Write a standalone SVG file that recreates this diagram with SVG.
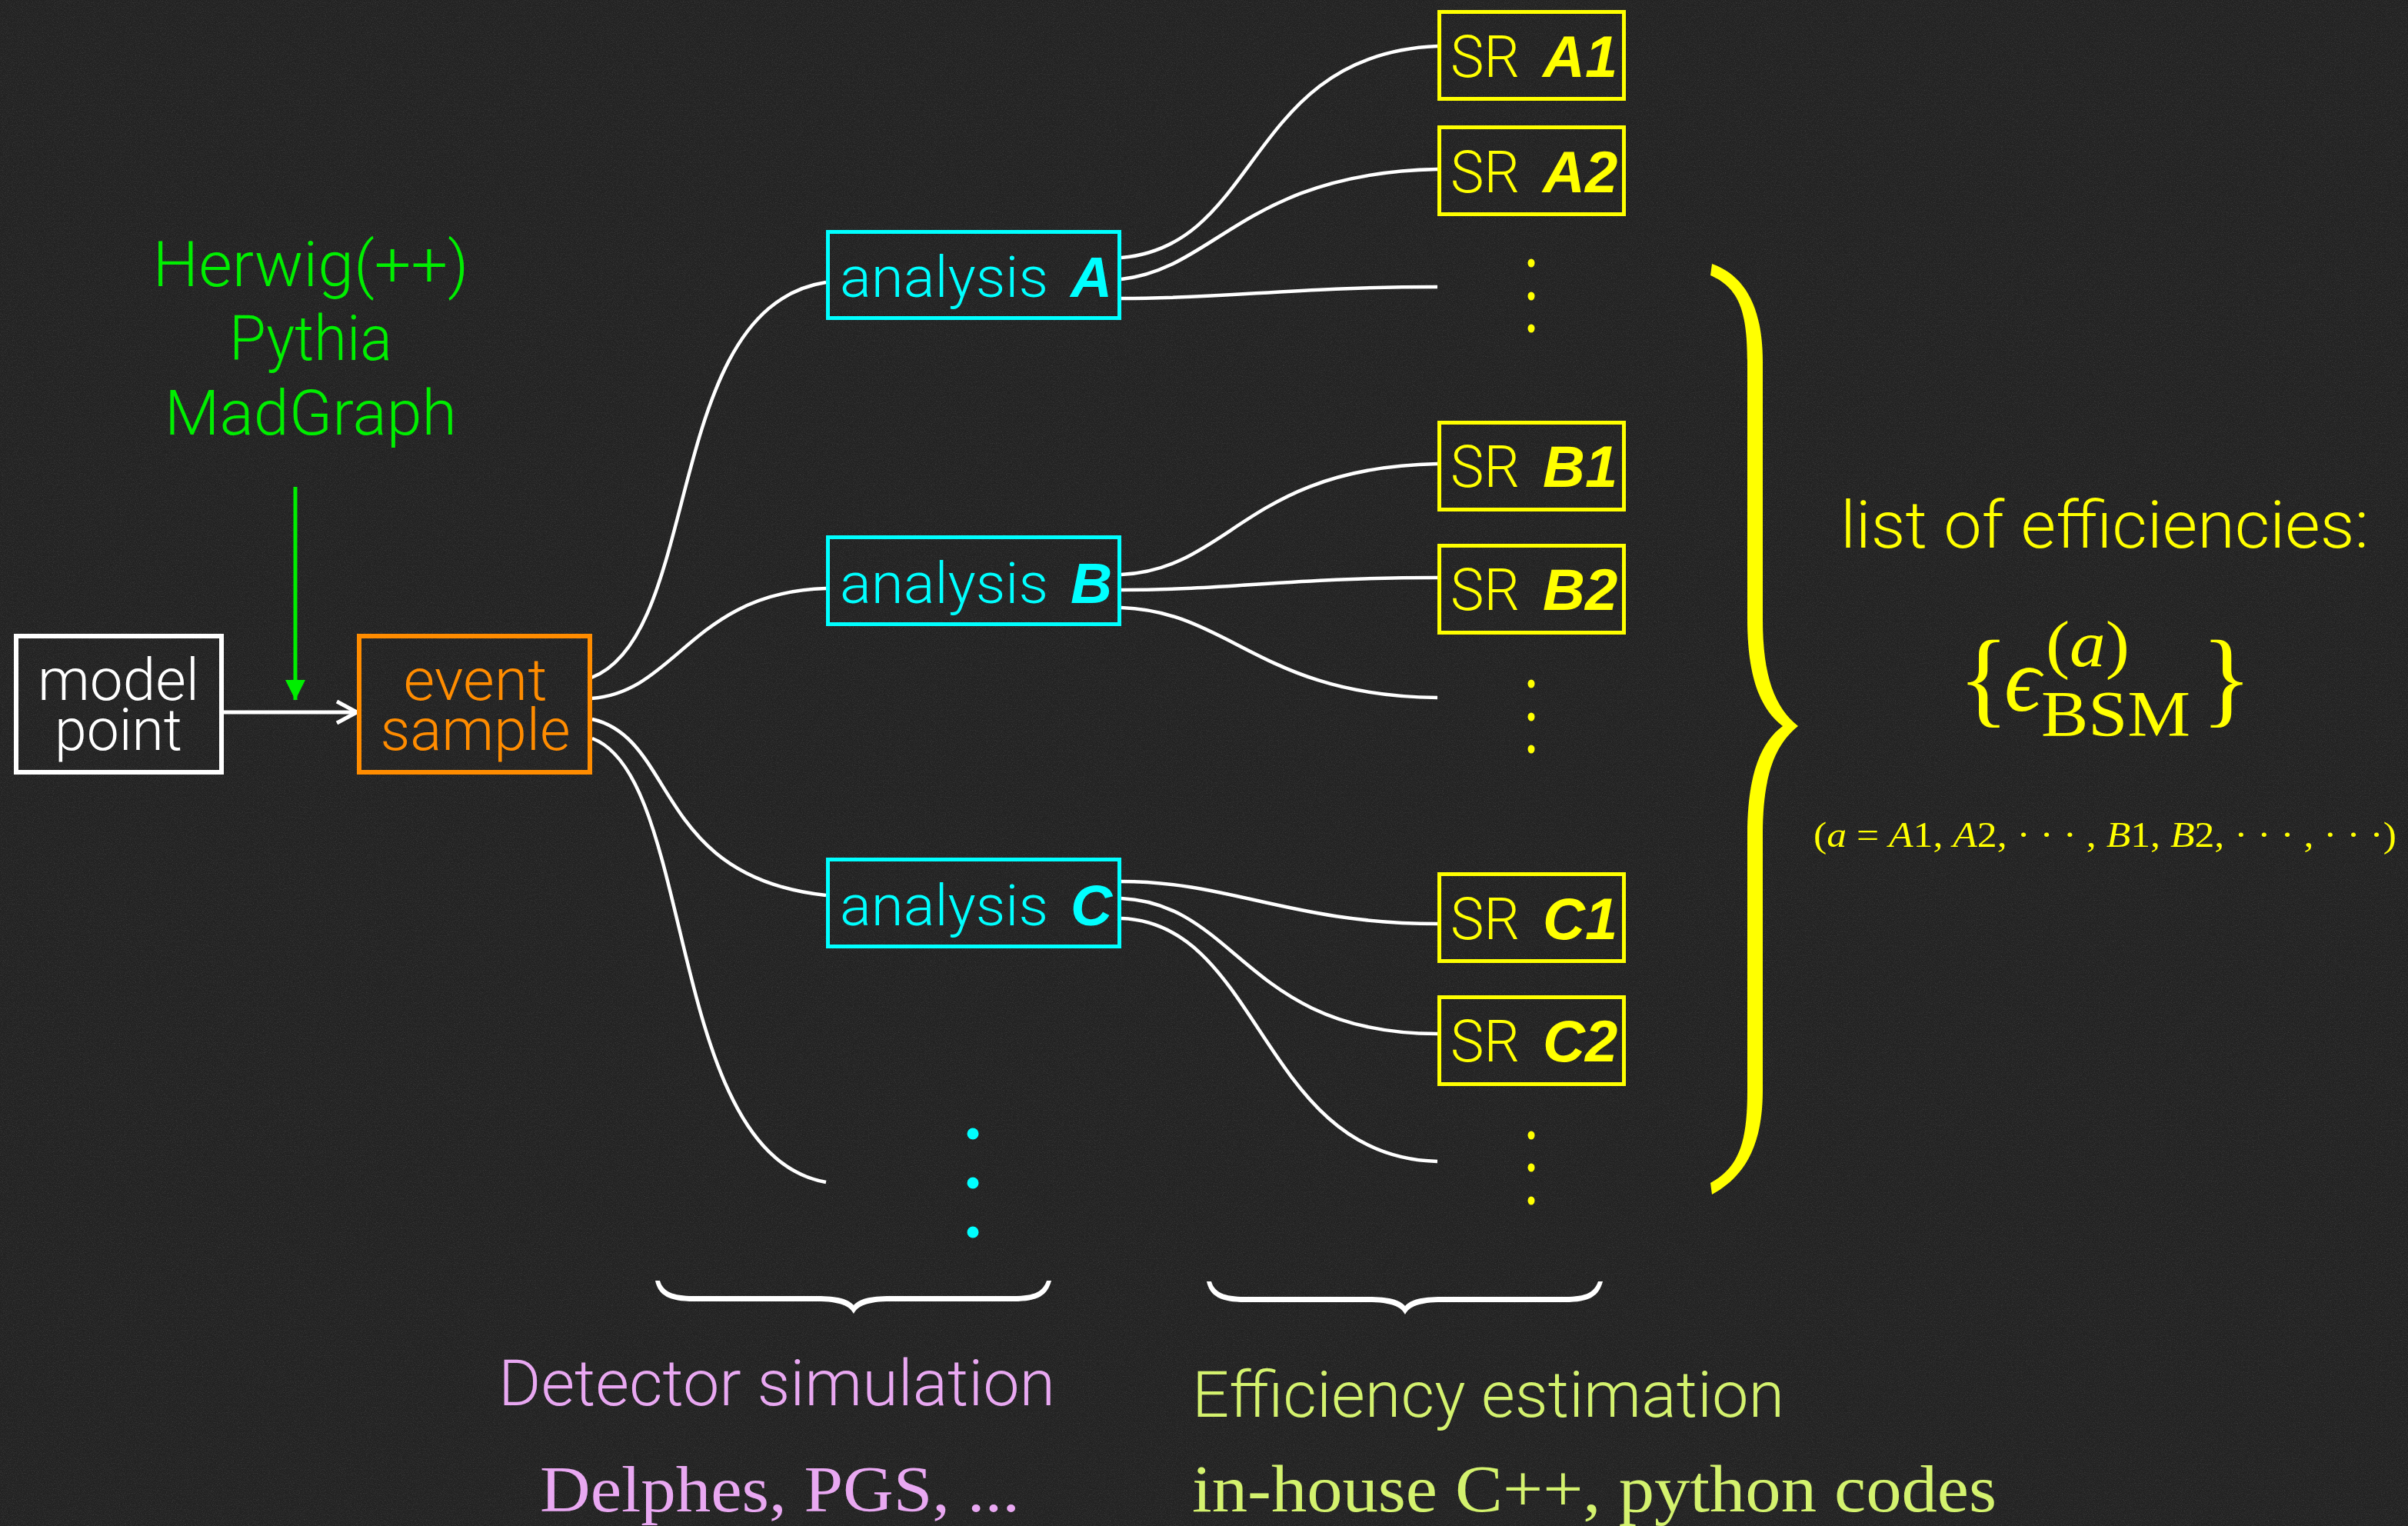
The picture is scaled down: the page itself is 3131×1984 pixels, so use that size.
<svg xmlns="http://www.w3.org/2000/svg" width="3131" height="1984" viewBox="0 0 3131 1984">
  <defs>
    <style>
      .lt { font-family: Roboto, "Liberation Sans", Arial, sans-serif; font-weight: 300; }
      .bi { font-family: "Liberation Sans", Arial, sans-serif; font-weight: 700; font-style: italic; }
      .sf { font-family: "Liberation Serif", "DejaVu Serif", serif; }
      .it { font-style: italic; }
      .mid { text-anchor: middle; }
      .box { fill: none; stroke-width: 5; }
      .wire { fill: none; stroke: #ffffff; stroke-width: 4.5; stroke-linecap: butt; }
      .cyan { fill: #00ffff; }
      .yel { fill: #ffff00; }
    </style>
    <filter id="chalk" x="0" y="0" width="100%" height="100%" filterUnits="userSpaceOnUse">
      <feTurbulence type="fractalNoise" baseFrequency="0.85" numOctaves="2" seed="7" result="n"/>
      <feColorMatrix in="n" type="matrix" values="0 0 0 0 1  0 0 0 0 1  0 0 0 0 1  1 0 0 0 -0.42"/>
    </filter>
    <marker id="open-head" markerUnits="userSpaceOnUse" viewBox="0 0 32 34" refX="29" refY="17" markerWidth="32" markerHeight="34" orient="auto">
      <path d="M3,3 L29,17 L3,31" fill="none" stroke="#ffffff" stroke-width="5"/>
    </marker>
    <marker id="solid-head" markerUnits="userSpaceOnUse" viewBox="0 0 26 26" refX="26" refY="13" markerWidth="26" markerHeight="26" orient="auto">
      <path d="M0,0 L26,13 L0,26 z" fill="#00ee00"/>
    </marker>
    <path id="underbrace" d="M852,1665 C856,1684 870,1692 902,1692 L1062,1692 C1092,1692 1105,1698 1110,1708 C1115,1698 1128,1692 1158,1692 L1318,1692 C1350,1692 1362,1684 1367,1665 L1361,1665 C1356,1679 1346,1685 1318,1685 L1158,1685 C1130,1685 1117,1689 1110,1697 C1103,1689 1090,1685 1062,1685 L902,1685 C874,1685 862,1679 858,1665 Z"/>
  </defs>

  <!-- chalkboard -->
  <rect x="0" y="0" width="3131" height="1984" fill="#222222"/>
  <rect x="0" y="0" width="3131" height="1984" fill="#ffffff" filter="url(#chalk)" opacity="0.22"/>

  <!-- generators -->
  <g id="generators" class="lt mid" fill="#00ee00" font-size="82">
    <text x="404" y="372" textLength="411" lengthAdjust="spacingAndGlyphs">Herwig(++)</text>
    <text x="404" y="468" textLength="212" lengthAdjust="spacingAndGlyphs">Pythia</text>
    <text x="404" y="565" textLength="380" lengthAdjust="spacingAndGlyphs">MadGraph</text>
  </g>

  <!-- connectors -->
  <g id="connectors">
    <line x1="384" y1="633" x2="384" y2="910" stroke="#00ee00" stroke-width="5" marker-end="url(#solid-head)"/>
    <line x1="291" y1="926" x2="464" y2="926" stroke="#ffffff" stroke-width="5" marker-end="url(#open-head)"/>

    <path class="wire" d="M769,881 C915,825 860,400 1074,367"/>
    <path class="wire" d="M769,908 C880,900 900,770 1074,765"/>
    <path class="wire" d="M770,935 C880,960 850,1140 1074,1164"/>
    <path class="wire" d="M770,960 C905,1010 865,1500 1074,1537"/>

    <path class="wire" d="M1458,335 C1640,320 1620,70 1869,60"/>
    <path class="wire" d="M1458,363 C1580,350 1620,225 1869,220"/>
    <path class="wire" d="M1458,388 C1600,388 1680,373 1869,373"/>

    <path class="wire" d="M1458,747 C1600,740 1620,608 1869,603"/>
    <path class="wire" d="M1458,767 C1600,767 1680,751 1869,751"/>
    <path class="wire" d="M1458,790 C1600,795 1640,905 1869,907"/>

    <path class="wire" d="M1458,1146 C1600,1146 1680,1201 1869,1201"/>
    <path class="wire" d="M1458,1168 C1610,1175 1620,1344 1869,1344"/>
    <path class="wire" d="M1458,1194 C1640,1200 1640,1505 1869,1510"/>
  </g>

  <!-- nodes -->
  <g id="model-point">
    <rect x="21" y="827" width="267" height="177" fill="none" stroke="#ffffff" stroke-width="6"/>
    <text class="lt mid" x="154" y="910" font-size="76" fill="#ffffff" textLength="210" lengthAdjust="spacingAndGlyphs">model</text>
    <text class="lt mid" x="154" y="975" font-size="76" fill="#ffffff" textLength="166" lengthAdjust="spacingAndGlyphs">point</text>
  </g>

  <g id="event-sample">
    <rect x="467" y="827" width="300" height="177" fill="none" stroke="#ff8c00" stroke-width="6"/>
    <text class="lt mid" x="618" y="910" font-size="76" fill="#ff8c00" textLength="187" lengthAdjust="spacingAndGlyphs">event</text>
    <text class="lt mid" x="618" y="975" font-size="76" fill="#ff8c00" textLength="247" lengthAdjust="spacingAndGlyphs">sample</text>
  </g>

  <g id="analysis-A">
    <rect class="box" x="1076.5" y="301.5" width="379" height="112" stroke="#00ffff"/>
    <text class="lt cyan" x="1092" y="386" font-size="75" textLength="271" lengthAdjust="spacingAndGlyphs">analysis</text>
    <text class="bi cyan" x="1392" y="386" font-size="75">A</text>
  </g>
  <g id="analysis-B">
    <rect class="box" x="1076.5" y="698.5" width="379" height="113" stroke="#00ffff"/>
    <text class="lt cyan" x="1092" y="784" font-size="75" textLength="271" lengthAdjust="spacingAndGlyphs">analysis</text>
    <text class="bi cyan" x="1392" y="784" font-size="75">B</text>
  </g>
  <g id="analysis-C">
    <rect class="box" x="1076.5" y="1117.5" width="379" height="113" stroke="#00ffff"/>
    <text class="lt cyan" x="1092" y="1203" font-size="75" textLength="271" lengthAdjust="spacingAndGlyphs">analysis</text>
    <text class="bi cyan" x="1392" y="1203" font-size="75">C</text>
  </g>
  <g id="analysis-more" class="cyan">
    <circle cx="1265" cy="1474" r="7.5"/>
    <circle cx="1265" cy="1538" r="7.5"/>
    <circle cx="1265" cy="1602" r="7.5"/>
  </g>

  <g id="sr-A1">
    <rect class="box" x="1871.5" y="15.5" width="240" height="113" stroke="#ffff00"/>
    <text class="lt yel" x="1886" y="100" font-size="76" textLength="90" lengthAdjust="spacingAndGlyphs">SR</text>
    <text class="bi yel" x="2006" y="100" font-size="76">A1</text>
  </g>
  <g id="sr-A2">
    <rect class="box" x="1871.5" y="165.5" width="240" height="113" stroke="#ffff00"/>
    <text class="lt yel" x="1886" y="250" font-size="76" textLength="90" lengthAdjust="spacingAndGlyphs">SR</text>
    <text class="bi yel" x="2006" y="250" font-size="76">A2</text>
  </g>
  <g id="sr-A-more" class="yel">
    <ellipse cx="1991" cy="342" rx="4.5" ry="5.5"/>
    <ellipse cx="1991" cy="385" rx="4.5" ry="5.5"/>
    <ellipse cx="1991" cy="427" rx="4.5" ry="5.5"/>
  </g>

  <g id="sr-B1">
    <rect class="box" x="1871.5" y="549.5" width="240" height="113" stroke="#ffff00"/>
    <text class="lt yel" x="1886" y="633" font-size="76" textLength="90" lengthAdjust="spacingAndGlyphs">SR</text>
    <text class="bi yel" x="2006" y="633" font-size="76">B1</text>
  </g>
  <g id="sr-B2">
    <rect class="box" x="1871.5" y="709.5" width="240" height="113" stroke="#ffff00"/>
    <text class="lt yel" x="1886" y="793" font-size="76" textLength="90" lengthAdjust="spacingAndGlyphs">SR</text>
    <text class="bi yel" x="2006" y="793" font-size="76">B2</text>
  </g>
  <g id="sr-B-more" class="yel">
    <ellipse cx="1991" cy="889" rx="4.5" ry="5.5"/>
    <ellipse cx="1991" cy="932" rx="4.5" ry="5.5"/>
    <ellipse cx="1991" cy="974" rx="4.5" ry="5.5"/>
  </g>

  <g id="sr-C1">
    <rect class="box" x="1871.5" y="1136.5" width="240" height="113" stroke="#ffff00"/>
    <text class="lt yel" x="1886" y="1221" font-size="76" textLength="90" lengthAdjust="spacingAndGlyphs">SR</text>
    <text class="bi yel" x="2006" y="1221" font-size="76">C1</text>
  </g>
  <g id="sr-C2">
    <rect class="box" x="1871.5" y="1296.5" width="240" height="113" stroke="#ffff00"/>
    <text class="lt yel" x="1886" y="1380" font-size="76" textLength="90" lengthAdjust="spacingAndGlyphs">SR</text>
    <text class="bi yel" x="2006" y="1380" font-size="76">C2</text>
  </g>
  <g id="sr-C-more" class="yel">
    <ellipse cx="1991" cy="1476" rx="4.5" ry="5.5"/>
    <ellipse cx="1991" cy="1518" rx="4.5" ry="5.5"/>
    <ellipse cx="1991" cy="1561" rx="4.5" ry="5.5"/>
  </g>

  <!-- collecting brace and efficiency list -->
  <g id="efficiencies">
    <path class="yel" d="M2226,343 C2268,358 2292,398 2292,470 L2292,805 C2292,880 2308,920 2338,944 C2308,968 2292,1008 2292,1085 L2292,1418 C2292,1490 2268,1530 2226,1553 L2224,1538 C2260,1518 2272,1488 2272,1418 L2272,1085 C2272,1010 2288,966 2318,944 C2288,922 2272,878 2272,805 L2272,470 C2272,402 2260,374 2224,358 Z"/>
    <text class="lt yel" x="2393" y="712" font-size="86" textLength="687" lengthAdjust="spacingAndGlyphs">list of efficiencies:</text>
    <g class="sf yel">
      <text x="2546" y="928" font-size="138">{</text>
      <text class="it" x="2606" y="924" font-size="118">ϵ</text>
      <text x="2660" y="866" font-size="84" textLength="109" lengthAdjust="spacingAndGlyphs">(<tspan class="it">a</tspan>)</text>
      <text x="2654" y="957" font-size="84" textLength="194" lengthAdjust="spacingAndGlyphs">BSM</text>
      <text x="2862" y="928" font-size="138">}</text>
      <text x="2358" y="1101" font-size="46" textLength="758" lengthAdjust="spacingAndGlyphs">(<tspan class="it">a</tspan> = <tspan class="it">A</tspan>1, <tspan class="it">A</tspan>2, · · · , <tspan class="it">B</tspan>1, <tspan class="it">B</tspan>2, · · · , · · ·)</text>
    </g>
  </g>

  <!-- stage labels -->
  <g id="detector-simulation">
    <use href="#underbrace" fill="#ffffff"/>
    <text class="lt" x="648" y="1827" font-size="84" fill="#e9a8f2" textLength="724" lengthAdjust="spacingAndGlyphs">Detector simulation</text>
    <text class="sf" x="702" y="1965" font-size="84" fill="#e9a8f2" textLength="624" lengthAdjust="spacingAndGlyphs">Delphes, PGS, ...</text>
  </g>
  <g id="efficiency-estimation">
    <use href="#underbrace" fill="#ffffff" transform="translate(717,1)"/>
    <text class="lt" x="1550" y="1842" font-size="84" fill="#d4f26e" textLength="770" lengthAdjust="spacingAndGlyphs">Efficiency estimation</text>
    <text class="sf" x="1550" y="1965" font-size="86" fill="#d4f26e" textLength="1046" lengthAdjust="spacingAndGlyphs">in-house C++, python codes</text>
  </g>
</svg>
